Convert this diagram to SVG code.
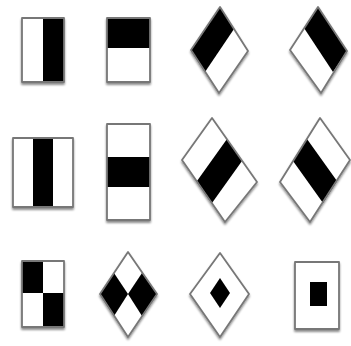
<svg xmlns="http://www.w3.org/2000/svg" width="351" height="346" viewBox="0 0 351 346">
<defs>
<filter id="sh" x="-20%" y="-20%" width="140%" height="140%">
<feDropShadow dx="0" dy="2" stdDeviation="1.2" flood-color="#000" flood-opacity="0.45"/>
</filter>
</defs>
<style>
.w{fill:#fff}
.k{fill:#000}
.o{fill:none;stroke:#777;stroke-width:1.8;stroke-linejoin:round}
g.f{filter:url(#sh)}
</style>
<rect width="351" height="346" fill="#fff"/>
<g id="f1" class="f">
<rect class="w" x="22" y="18" width="42" height="64"/>
<rect class="k" x="43" y="18" width="21" height="64"/>
<rect class="o" x="22" y="18" width="42" height="64"/>
</g>
<g id="f2" class="f">
<rect class="w" x="107" y="18" width="43" height="64"/>
<rect class="k" x="107" y="18" width="43" height="30"/>
<rect class="o" x="107" y="18" width="43" height="64"/>
</g>
<g id="f3" class="f">
<polygon class="w" points="220,7 248,51 219,93 191,50"/>
<polygon class="k" points="220,7 234,29 205,72 191,50"/>
<polygon class="o" points="220,7 248,51 219,93 191,50"/>
</g>
<g id="f4" class="f">
<polygon class="w" points="318,7 347,51 321,93 290,50"/>
<polygon class="k" points="318,7 347,51 333,72 304,28"/>
<polygon class="o" points="318,7 347,51 321,93 290,50"/>
</g>
<g id="f5" class="f">
<rect class="w" x="13" y="138" width="60" height="69"/>
<rect class="k" x="33" y="138" width="20" height="69"/>
<rect class="o" x="13" y="138" width="60" height="69"/>
</g>
<g id="f6" class="f">
<rect class="w" x="107" y="124" width="43" height="96"/>
<rect class="k" x="107" y="157" width="43" height="30"/>
<rect class="o" x="107" y="124" width="43" height="96"/>
</g>
<g id="f7" class="f">
<polygon class="w" points="212,118 257,182 225,222 182,160"/>
<polygon class="k" points="227,139 242,161 212,203 197,181"/>
<polygon class="o" points="212,118 257,182 225,222 182,160"/>
</g>
<g id="f8" class="f">
<polygon class="w" points="320,118 350,160 310,222 280,182"/>
<polygon class="k" points="307,139 337,181 323,203 293,161"/>
<polygon class="o" points="320,118 350,160 310,222 280,182"/>
</g>
<g id="f9" class="f">
<rect class="w" x="22" y="261" width="42" height="66"/>
<rect class="k" x="22" y="261" width="21" height="32"/>
<rect class="k" x="43" y="293" width="21" height="34"/>
<rect class="o" x="22" y="261" width="42" height="66"/>
</g>
<g id="f10" class="f">
<polygon class="w" points="128,252 157,294 128,337 100,294"/>
<polygon class="k" points="114,273 128,294 114,316 100,294"/>
<polygon class="k" points="142,273 157,294 142,316 128,294"/>
<polygon class="o" points="128,252 157,294 128,337 100,294"/>
</g>
<g id="f11" class="f">
<polygon class="w" points="220,253 249,294 220,337 190,294"/>
<polygon class="k" points="220,278 230,293 220,308 210,293"/>
<polygon class="o" points="220,253 249,294 220,337 190,294"/>
</g>
<g id="f12" class="f">
<rect class="w" x="295" y="262" width="44" height="67"/>
<rect class="k" x="310" y="282" width="17" height="24"/>
<rect class="o" x="295" y="262" width="44" height="67"/>
</g>
</svg>
